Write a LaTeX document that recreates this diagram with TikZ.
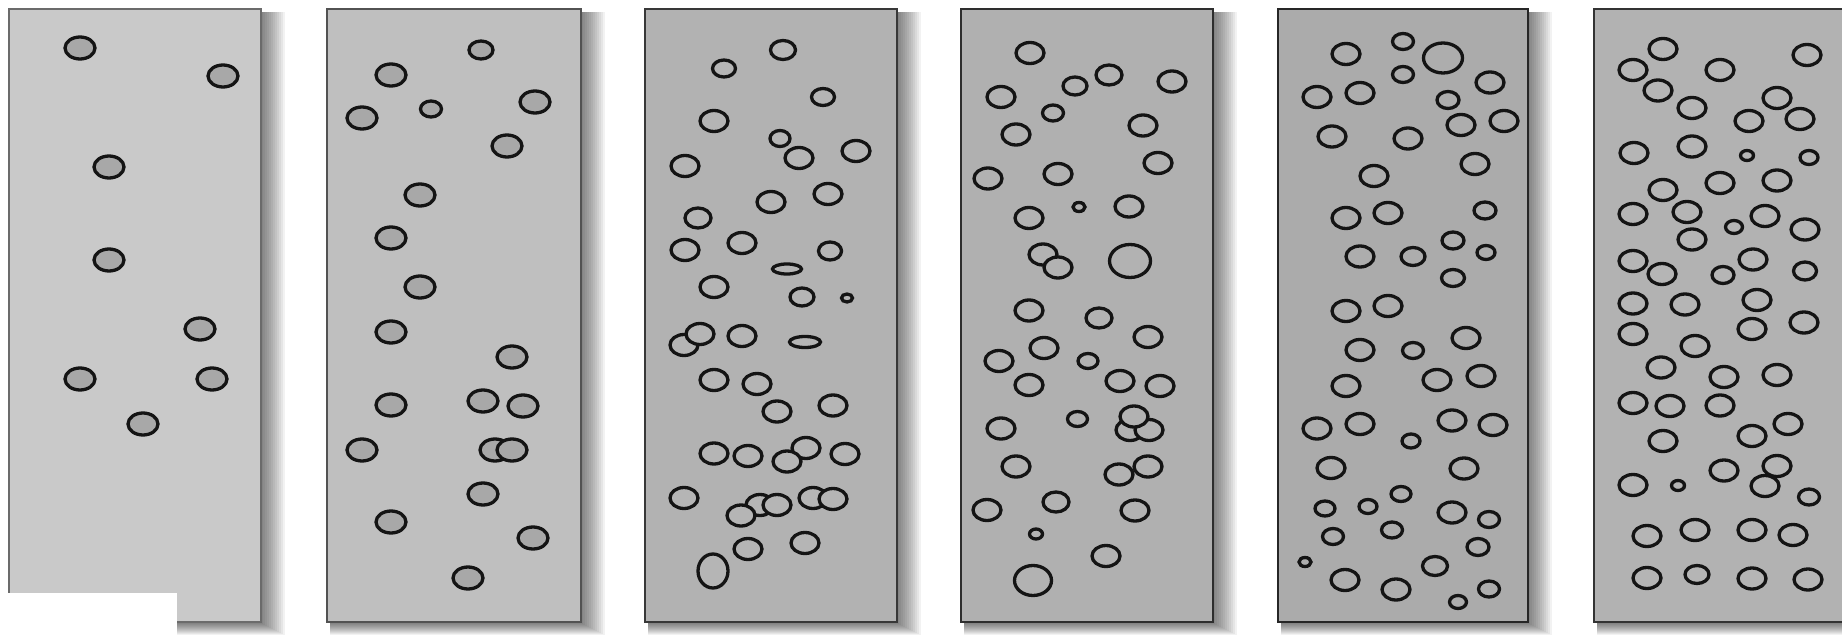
\documentclass[tikz,border=0pt]{standalone}
\begin{document}
\begin{tikzpicture}[x=1pt,y=-1pt,
  bub/.style={draw=black!92,line width=3.3pt},
  panelbox/.style={line width=2.8pt}]
\useasboundingbox (0,0) rectangle (1842,639);
\clip (0,0) rectangle (1842,639);
\fill[white] (0,0) rectangle (1842,639);
\newcommand\panel[6]{% L, R, fill, border
  \foreach \s in {2,4,...,24}{\fill[black,opacity=0.05] (#1+3,12) rectangle (#2+\s,623+\s*0.5);}
  \filldraw[panelbox,fill=#3,draw=#4] (#1,9) rectangle (#2,622);
}
\newcommand\bub[4]{\path[bub,fill=cfill] (#1,#2) ellipse [x radius=#3pt, y radius=#4pt];}
% panel 1
\panel{9}{261}{black!21}{black!58}{}{}
\colorlet{cfill}{black!34}
\bub{80}{48}{15}{11}
\bub{223}{76}{15}{11}
\bub{109}{167}{15}{11}
\bub{109}{260}{15}{11}
\bub{200}{329}{15}{11}
\bub{80}{379}{15}{11}
\bub{212}{379}{15}{11}
\bub{143}{424}{15}{11}
\fill[white] (0,593) rectangle (177,639);
% panel 2
\panel{327}{581}{black!25}{black!68}{}{}
\colorlet{cfill}{black!34}
\bub{481}{50}{12}{9}
\bub{391}{75}{15}{11}
\bub{535}{102}{15}{11}
\bub{431}{109}{10.5}{8}
\bub{362}{118}{15}{11}
\bub{507}{146}{15}{11}
\bub{420}{195}{15}{11}
\bub{391}{238}{15}{11}
\bub{420}{287}{15}{11}
\bub{391}{332}{15}{11}
\bub{512}{357}{15}{11}
\bub{391}{405}{15}{11}
\bub{483}{401}{15}{11}
\bub{523}{406}{15}{11}
\bub{362}{450}{15}{11}
\bub{495}{450}{15}{11}
\bub{512}{450}{15}{11}
\bub{483}{494}{15}{11}
\bub{391}{522}{15}{11}
\bub{533}{538}{15}{11}
\bub{468}{578}{15}{11}
% panel 3
\panel{645}{897}{black!30}{black!78}{}{}
\colorlet{cfill}{black!29}
\bub{783}{50}{12.5}{9.5}
\bub{724}{68.5}{11.5}{8.5}
\bub{823}{97}{11.5}{8.5}
\bub{714}{121}{14}{10.5}
\bub{780}{138.5}{10}{8}
\bub{799}{158}{14}{10.5}
\bub{856}{151}{14}{10.5}
\bub{685}{166}{14}{10.5}
\bub{771}{202}{14}{10.5}
\bub{828}{194}{14}{10.5}
\bub{698}{218}{13}{10}
\bub{742}{243}{14}{10.5}
\bub{685}{250}{14}{10.5}
\bub{830}{251}{11.5}{9}
\bub{787}{269}{14.5}{5}
\bub{714}{287}{14}{10.5}
\bub{802}{297}{12}{9}
\bub{847}{298}{5.5}{4}
\bub{684}{345}{14}{10.5}
\bub{700}{334}{14}{10.5}
\bub{742}{336}{14}{10.5}
\bub{805}{342}{15.5}{5.5}
\bub{714}{380}{14}{10.5}
\bub{757}{384}{14}{10.5}
\bub{777}{411.5}{14}{10.5}
\bub{833}{405.5}{14}{10.5}
\bub{714}{453.5}{14}{10.5}
\bub{748}{456}{14}{10.5}
\bub{806}{448}{14}{10.5}
\bub{787}{461.5}{14}{10.5}
\bub{845}{454}{14}{10.5}
\bub{684}{498}{14}{10.5}
\bub{760}{505}{14}{10.5}
\bub{777}{505}{14}{10.5}
\bub{741}{515.5}{14}{10.5}
\bub{813}{498}{14}{10.5}
\bub{833}{499}{14}{10.5}
\bub{748}{549}{14}{10.5}
\bub{805}{543}{14}{10.5}
\bub{713}{571}{15}{17}
% panel 4
\panel{961}{1213}{black!31}{black!82}{}{}
\colorlet{cfill}{black!30}
\bub{1030}{53}{14}{10.5}
\bub{1109}{75}{13}{10}
\bub{1075}{86}{12}{9}
\bub{1172}{81.5}{14}{10.5}
\bub{1001}{97}{14}{10.5}
\bub{1053}{113}{10.5}{8}
\bub{1016}{134.5}{14}{10.5}
\bub{1143}{125.5}{14}{10.5}
\bub{1158}{163}{14}{10.5}
\bub{988}{178.5}{14}{10.5}
\bub{1058}{174}{14}{10.5}
\bub{1079}{207}{6}{4.5}
\bub{1129}{206.5}{14}{10.5}
\bub{1029}{218}{14}{10.5}
\bub{1130}{261}{20.5}{16.5}
\bub{1043}{254.5}{14}{10.5}
\bub{1058}{267.5}{14}{10.5}
\bub{1029}{310.5}{14}{10.5}
\bub{1099}{318}{13}{10}
\bub{1148}{337}{14}{10.5}
\bub{1044}{348}{14}{10.5}
\bub{999}{361}{14}{10.5}
\bub{1088}{361}{10}{7.5}
\bub{1029}{385}{14}{10.5}
\bub{1120}{381}{14}{10.5}
\bub{1160}{386}{14}{10.5}
\bub{1077.5}{419}{10}{7.5}
\bub{1130}{430}{14}{10.5}
\bub{1149}{430}{14}{10.5}
\bub{1134}{416.5}{14}{10.5}
\bub{1001}{428.5}{14}{10.5}
\bub{1016}{466.5}{14}{10.5}
\bub{1119}{474.5}{14}{10.5}
\bub{1148}{466.5}{14}{10.5}
\bub{987}{510}{14}{10.5}
\bub{1056}{502}{13}{10}
\bub{1135}{510.5}{14}{10.5}
\bub{1036}{534}{6.5}{5}
\bub{1106}{556}{14}{10.5}
\bub{1033}{580.5}{18.5}{15}
% panel 5
\panel{1278}{1528}{black!33}{black!85}{}{}
\colorlet{cfill}{black!32}
\bub{1346}{54}{14}{10.5}
\bub{1403}{41.5}{10.5}{8}
\bub{1443}{58}{19.5}{15}
\bub{1403}{74.5}{10.5}{8}
\bub{1490}{82.5}{14}{10.5}
\bub{1317}{97}{14}{10.5}
\bub{1360}{93}{14}{10.5}
\bub{1448}{100}{11}{8.5}
\bub{1461}{125}{14}{10.5}
\bub{1504}{121}{14}{10.5}
\bub{1332}{136.5}{14}{10.5}
\bub{1408}{138.5}{14}{10.5}
\bub{1475}{164}{14}{10.5}
\bub{1374}{176}{14}{10.5}
\bub{1346}{218}{14}{10.5}
\bub{1388}{213}{14}{10.5}
\bub{1485}{210.5}{11}{8.5}
\bub{1453}{240.5}{11}{8.5}
\bub{1486}{252.5}{9}{7}
\bub{1360}{256.5}{14}{10.5}
\bub{1413}{256.5}{12}{9}
\bub{1453}{278}{11.5}{8.5}
\bub{1346}{311}{14}{10.5}
\bub{1388}{306}{14}{10.5}
\bub{1466}{338}{14}{10.5}
\bub{1360}{350}{14}{10.5}
\bub{1413}{350.5}{10.5}{8}
\bub{1346}{386}{14}{10.5}
\bub{1437}{380}{14}{10.5}
\bub{1481}{376}{14}{10.5}
\bub{1317}{428.5}{14}{10.5}
\bub{1360}{424}{14}{10.5}
\bub{1452}{420.5}{14}{10.5}
\bub{1493}{425}{14}{10.5}
\bub{1411}{441}{9}{7}
\bub{1331}{468}{14}{10.5}
\bub{1464}{468.5}{14}{10.5}
\bub{1401}{494}{10}{7.5}
\bub{1325}{508.5}{10}{7.5}
\bub{1368}{506.5}{9}{7}
\bub{1452}{512.5}{14}{10.5}
\bub{1489}{519.5}{10.5}{8}
\bub{1333}{536.5}{10.5}{8}
\bub{1392}{530}{10.5}{8}
\bub{1478}{547}{11}{8.5}
\bub{1305}{562}{6}{4.5}
\bub{1435}{566}{12.5}{9.5}
\bub{1345}{580}{14}{10.5}
\bub{1396}{589.5}{14}{10.5}
\bub{1489}{589}{10.5}{8}
\bub{1458}{602}{8.5}{6.5}
% panel 6
\panel{1594}{1850}{black!30}{black!80}{}{}
\colorlet{cfill}{black!29}
\bub{1663}{49}{14}{10.5}
\bub{1633}{70}{14}{10.5}
\bub{1807}{55}{14}{10.5}
\bub{1720}{70}{14}{10.5}
\bub{1658}{90.5}{14}{10.5}
\bub{1777}{98}{14}{10.5}
\bub{1692}{108}{14}{10.5}
\bub{1749}{121}{14}{10.5}
\bub{1800}{119}{14}{10.5}
\bub{1634}{153}{14}{10.5}
\bub{1692}{146.5}{14}{10.5}
\bub{1747}{155.5}{6.5}{5}
\bub{1809}{157.5}{9}{7}
\bub{1720}{183}{14}{10.5}
\bub{1777}{180.5}{14}{10.5}
\bub{1663}{190}{14}{10.5}
\bub{1633}{214}{14}{10.5}
\bub{1687}{212}{14}{10.5}
\bub{1734}{227}{8.5}{6.5}
\bub{1765}{216}{14}{10.5}
\bub{1805}{229.5}{14}{10.5}
\bub{1692}{239.5}{14}{10.5}
\bub{1633}{261}{14}{10.5}
\bub{1662}{274}{14}{10.5}
\bub{1723}{275}{11}{8.5}
\bub{1753}{259.5}{14}{10.5}
\bub{1805}{271}{11.5}{9}
\bub{1633}{303.5}{14}{10.5}
\bub{1685}{304.5}{14}{10.5}
\bub{1757}{300}{14}{10.5}
\bub{1633}{334}{14}{10.5}
\bub{1752}{329}{14}{10.5}
\bub{1804}{322.5}{14}{10.5}
\bub{1695}{346}{14}{10.5}
\bub{1661}{367.5}{14}{10.5}
\bub{1724}{377}{14}{10.5}
\bub{1777}{375}{14}{10.5}
\bub{1633}{403}{14}{10.5}
\bub{1670}{406}{14}{10.5}
\bub{1720}{405.5}{14}{10.5}
\bub{1788}{424}{14}{10.5}
\bub{1663}{441}{14}{10.5}
\bub{1752}{436}{14}{10.5}
\bub{1724}{470.5}{14}{10.5}
\bub{1765}{486}{14}{10.5}
\bub{1777}{466}{14}{10.5}
\bub{1633}{485}{14}{10.5}
\bub{1678}{485.5}{6.5}{5}
\bub{1809}{497}{10.5}{8}
\bub{1647}{536}{14}{10.5}
\bub{1695}{530}{14}{10.5}
\bub{1752}{530}{14}{10.5}
\bub{1793}{535}{14}{10.5}
\bub{1647}{578}{14}{10.5}
\bub{1697}{574.5}{12}{9}
\bub{1752}{578.5}{14}{10.5}
\bub{1808}{579.5}{14}{10.5}
\end{tikzpicture}
\end{document}
